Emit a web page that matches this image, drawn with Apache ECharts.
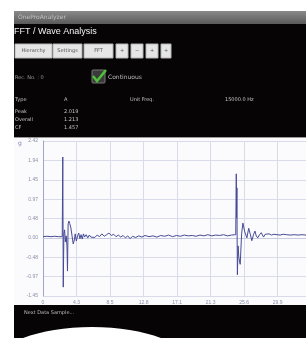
<!DOCTYPE html>
<html>
<head>
<meta charset="utf-8">
<script src="https://cdn.jsdelivr.net/npm/echarts@6/dist/echarts.min.js"></script>
<style>
  html, body { margin: 0; padding: 0; background: #fff; }
  #chartContainer { width: 306px; height: 338px; }
</style>
</head>
<body>
<div id="chartContainer"></div>
<script>
// waveform samples (time units, amplitude in g)
var waveX = [0, 0.5, 1.0, 1.5, 2.0, 2.45, 2.52, 2.58, 2.66, 2.75, 2.85, 2.95, 3.05, 3.12, 3.2, 3.3, 3.4, 3.55,
  3.7, 3.85, 4.0, 4.1, 4.25, 4.4, 4.55, 4.7, 4.85, 5.0, 5.15, 5.3, 5.5, 5.7, 5.9, 6.1, 6.3, 6.6, 6.9, 7.2,
  7.5, 7.8, 8.1, 8.4, 8.7, 9.0, 9.3, 9.6, 9.9, 10.2, 10.5, 10.8, 11.1, 11.4, 11.8, 12.2, 12.6, 13.0, 13.5,
  14.0, 14.5, 15.0, 15.5, 16.0, 16.5, 17.0, 17.5, 18.0, 18.5, 19.0, 19.5, 20.0, 20.5, 21.0, 21.5, 22.0,
  22.5, 23.0, 23.5, 24.0, 24.55, 24.62, 24.66, 24.7, 24.72, 24.76, 24.85, 24.95, 25.12, 25.3, 25.46, 25.7,
  25.97, 26.2, 26.39, 26.6, 26.81, 27.0, 27.16, 27.35, 27.58, 27.8, 28.09, 28.3, 28.52, 28.8, 29.1, 29.4,
  29.8, 30.2, 30.6, 31.0, 31.5, 32.0, 32.5, 33.0, 33.5];
var waveY = [0.03, 0.04, 0.03, 0.04, 0.03, 0.03, 2.02, -1.23, 0.1, 0.2, -0.1, 0.05, -0.2, -0.83, 0.35, 0.42,
  0.36, 0.25, 0.05, -0.15, -0.05, 0.1, -0.08, 0.05, 0.12, -0.02, 0.08, -0.03, 0.1, 0.02, 0.08, 0.0, 0.07,
  0.02, 0.06, 0.01, 0.07, 0.03, 0.1, 0.04, 0.08, 0.12, 0.06, 0.09, 0.03, 0.07, 0.02, 0.06, 0.0, 0.05,
  -0.02, 0.04, 0.01, 0.05, 0.02, 0.06, 0.03, 0.05, 0.02, 0.06, 0.04, 0.07, 0.03, 0.06, 0.04, 0.07, 0.05,
  0.06, 0.04, 0.07, 0.05, 0.08, 0.05, 0.07, 0.06, 0.08, 0.05, 0.07, 0.08, 1.6, 0.5, 1.25, 0.3, -0.92,
  -0.2, -0.5, -0.66, 0.1, 0.37, 0.15, 0.0, 0.24, 0.1, -0.07, 0.08, 0.17, 0.05, 0.0, 0.08, 0.13, 0.02,
  0.09, 0.06, 0.1, 0.07, 0.09, 0.08, 0.07, 0.09, 0.08, 0.07, 0.08, 0.07, 0.08, 0.07];

var xTickLabels = ['0', '4.3', '8.5', '12.8', '17.1', '21.3', '25.6', '29.9'];
var yTickLabels = ['-1.45', '-0.97', '-0.48', '0.00', '0.48', '0.97', '1.45', '1.94', '2.42'];

var menuButtons = ['Hierarchy', 'Settings', 'FFT', '+', '\u2212', '+', '+'];
var tableHead = ['Type', 'A', 'Unit Freq.', '15000.0 Hz'];
var tableRows = ['Peak', 'Overall', 'CF'];
var tableValues = ['2.019', '1.213', '1.457'];

var wave = waveX.map(function (x, i) { return [x, waveY[i]]; });

var btnX = [15, 53, 84, 116, 131, 146, 161];
var btnW = [37, 29, 29, 12, 12, 12, 10];
var rowY = [112, 120, 128];
var headX = [15, 64, 130, 225];

var graphics = [
  { type: 'rect', z: -10, shape: { x: 14, y: 11, width: 292, height: 327 }, style: { fill: '#060404' } },
  { type: 'rect', z: -9, shape: { x: 14, y: 11, width: 292, height: 13 },
    style: { fill: new echarts.graphic.LinearGradient(0, 0, 0, 1, [{ offset: 0, color: '#8a8a8a' }, { offset: 1, color: '#5a5a5a' }]) } },
  { type: 'text', z: 5, left: 18, top: 14, style: { text: 'OneProAnalyzer', fill: '#c0c0c0', font: '6px "DejaVu Sans"' } },
  { type: 'text', z: 5, left: 14, top: 27, style: { text: 'FFT / Wave Analysis', fill: '#f2f2f2', font: '9px "Liberation Sans"' } },
  { type: 'rect', z: -9, shape: { x: 14, y: 138, width: 292, height: 167 }, style: { fill: '#fbfbfd' } },
  { type: 'rect', z: -8, shape: { x: 14, y: 137, width: 292, height: 1 }, style: { fill: '#9a9a9a' } },
  { type: 'ellipse', z: -7, shape: { cx: 92, cy: 367, rx: 100, ry: 40 }, style: { fill: '#ffffff' } },
  { type: 'text', z: 5, left: 24, top: 310, style: { text: 'Next Data Sample...', fill: '#bdbdbd', font: '5px "DejaVu Sans"' } },
  { type: 'text', z: 5, left: 15, top: 75, style: { text: 'Rec. No. : 0', fill: '#9a9a9a', font: '5px "DejaVu Sans"' } },
  { type: 'rect', z: 4, shape: { x: 92, y: 70, width: 13, height: 13, r: 1 }, style: { fill: '#3a3a3a', stroke: '#777', lineWidth: 1 } },
  { type: 'polyline', z: 5, shape: { points: [[93, 76], [97, 81], [106, 70]] }, style: { stroke: '#4fc03a', lineWidth: 2.5, fill: null } },
  { type: 'text', z: 5, left: 108, top: 74, style: { text: 'Continuous', fill: '#bdbdbd', font: '6px "DejaVu Sans"' } },
  { type: 'text', z: 5, left: 18, top: 140, style: { text: 'g', fill: '#7d86c0', font: '6px "DejaVu Sans"' } }
];

menuButtons.forEach(function (b, i) {
  graphics.push({ type: 'rect', z: 4, shape: { x: btnX[i], y: 44, width: btnW[i], height: 14 },
    style: { fill: '#e6e6e6', stroke: '#b5b5b5', lineWidth: 1 } });
  graphics.push({ type: 'text', z: 5, x: btnX[i] + btnW[i] / 2, y: 51,
    style: { text: b, fill: '#555', font: '5px "DejaVu Sans"', align: 'center', verticalAlign: 'middle' } });
});
tableHead.forEach(function (t, i) {
  graphics.push({ type: 'text', z: 5, left: headX[i], top: 97, style: { text: t, fill: '#c4c4c4', font: '5px "DejaVu Sans"' } });
});
tableRows.forEach(function (t, i) {
  graphics.push({ type: 'text', z: 5, left: 15, top: rowY[i] - 3, style: { text: t, fill: '#c4c4c4', font: '5px "DejaVu Sans"' } });
  graphics.push({ type: 'text', z: 5, left: 64, top: rowY[i] - 3, style: { text: tableValues[i], fill: '#c4c4c4', font: '5px "DejaVu Sans"' } });
});

var chart = echarts.init(document.getElementById('chartContainer'));
chart.setOption({
  backgroundColor: '#ffffff',
  animation: false,
  graphic: graphics,
  grid: { left: 43, right: 0, top: 141, bottom: 42 },
  xAxis: {
    type: 'value', min: 0, max: 33.5, interval: 4.27,
    axisLine: { show: true, lineStyle: { color: '#c6cbe0' } },
    axisTick: { show: false },
    splitLine: { show: true, lineStyle: { color: '#d9dce8', width: 1 } },
    axisLabel: {
      color: '#8a90a8', fontSize: 5, margin: 4, showMaxLabel: false,
      formatter: function (v) { return xTickLabels[Math.round(v / 4.27)] || ''; }
    }
  },
  yAxis: {
    type: 'value', min: -1.452, max: 2.42, interval: 0.484,
    axisLine: { show: true, lineStyle: { color: '#9ea6c8' } },
    axisTick: { show: false },
    splitLine: { show: true, lineStyle: { color: '#d9dce8', width: 1 } },
    axisLabel: {
      color: '#8a90a8', fontSize: 5, margin: 5,
      formatter: function (v) { return yTickLabels[Math.round((v + 1.452) / 0.484)] || ''; }
    }
  },
  series: [{
    type: 'line',
    data: wave,
    showSymbol: false,
    lineStyle: { color: '#464a96', width: 1 }
  }]
});
</script>
</body>
</html>
